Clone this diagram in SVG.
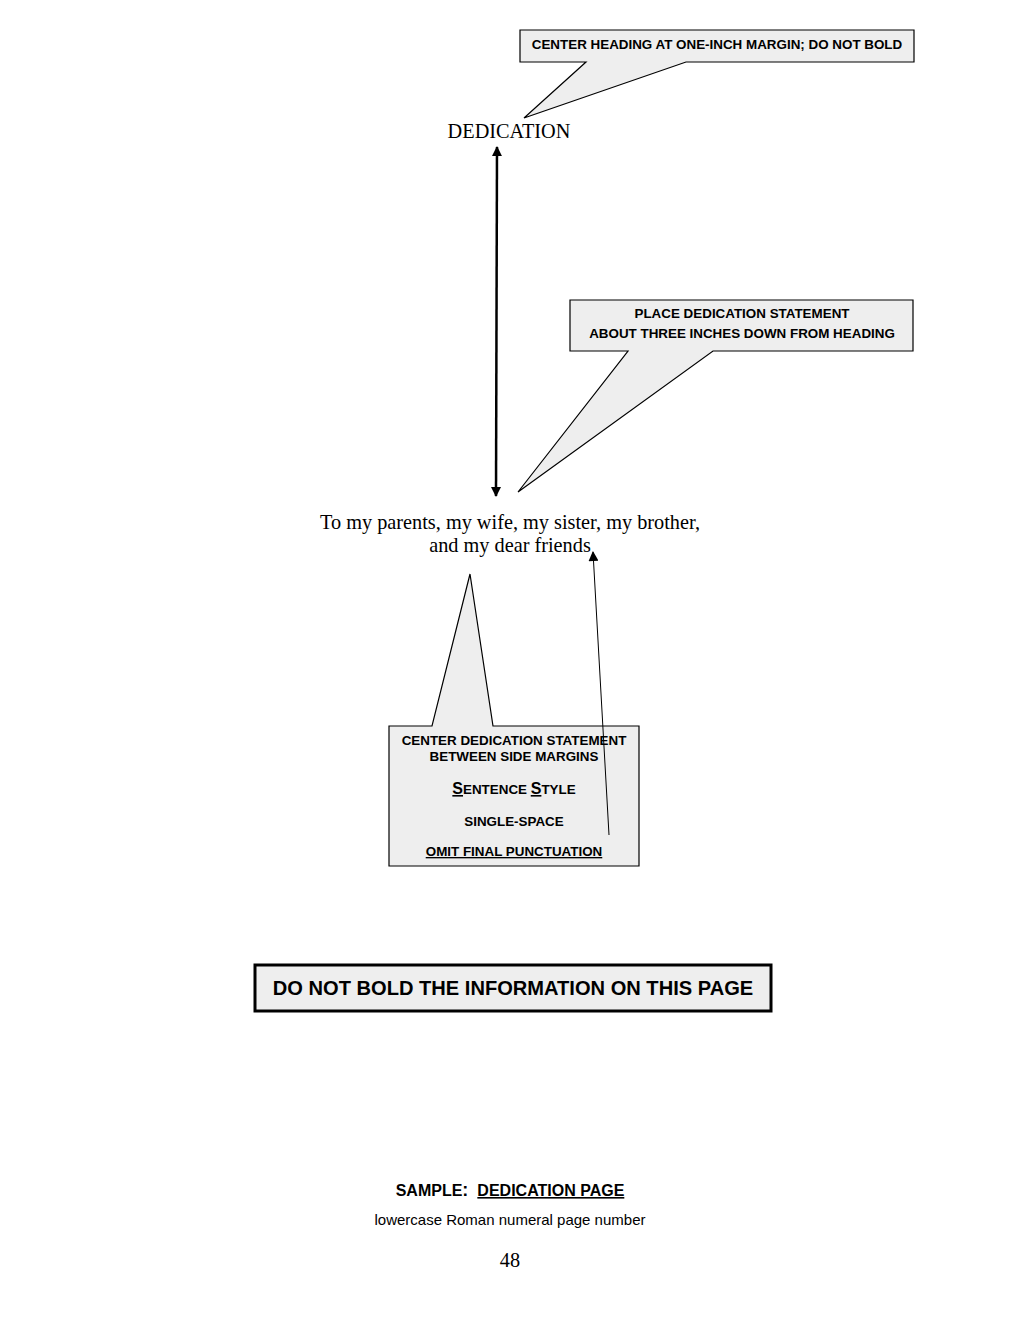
<svg xmlns="http://www.w3.org/2000/svg" width="1020" height="1320" viewBox="0 0 1020 1320">
<style>
.callout{fill:#eeeeee;stroke:#000;stroke-width:1.2}
.cap{font-family:"Liberation Sans",Arial,sans-serif;font-weight:bold;font-size:13.4px;fill:#000;text-anchor:middle}
.serif{font-family:"Liberation Serif","Times New Roman",serif;font-size:20.3px;fill:#000;text-anchor:middle}
.sans{font-family:"Liberation Sans",Arial,sans-serif;fill:#000;text-anchor:middle}
</style>
<defs>
<marker id="ah" viewBox="0 0 10 10" refX="9" refY="5" markerWidth="10" markerHeight="12" markerUnits="userSpaceOnUse" orient="auto-start-reverse">
<path d="M0,0 L10,5 L0,10 Z" fill="#000"/>
</marker>
<marker id="ahs" viewBox="0 0 10 10" refX="9" refY="5" markerWidth="12" markerHeight="10" markerUnits="userSpaceOnUse" orient="auto">
<path d="M0,0 L10,5 L0,10 Z" fill="#000"/>
</marker>
</defs>
<rect width="1020" height="1320" fill="#fff"/>

<g id="callout-heading">
<path class="callout" d="M520,30 H914 V62 H686 L524,118 L586,62 H520 Z"/>
<text class="cap" x="717" y="49">CENTER HEADING AT ONE-INCH MARGIN; DO NOT BOLD</text>
</g>

<g id="heading">
<text class="serif" x="509" y="138">DEDICATION</text>
</g>

<g id="callout-place">
<path class="callout" d="M570,300 H913 V351 H713 L518,492 L628,351 H570 Z"/>
<text class="cap" x="742" y="318">PLACE DEDICATION STATEMENT</text>
<text class="cap" x="742" y="338">ABOUT THREE INCHES DOWN FROM HEADING</text>
</g>

<g id="statement">
<text class="serif" x="510" y="529">To my parents, my wife, my sister, my brother,</text>
<text class="serif" x="510" y="552">and my dear friends</text>
</g>

<g id="callout-center">
<path class="callout" d="M389,726 H432 L470,574 L493,726 H639 V866 H389 Z"/>
<text class="cap" x="514" y="745">CENTER DEDICATION STATEMENT</text>
<text class="cap" x="514" y="761">BETWEEN SIDE MARGINS</text>
<text class="cap" x="514" y="794"><tspan font-size="16" text-decoration="underline">S</tspan>ENTENCE <tspan font-size="16" text-decoration="underline">S</tspan>TYLE</text>
<text class="cap" x="514" y="826">SINGLE-SPACE</text>
<text class="cap" x="514" y="856" text-decoration="underline">OMIT FINAL PUNCTUATION</text>
</g>

<g id="connectors">
<line x1="497" y1="147" x2="496" y2="496" stroke="#000" stroke-width="2.5" marker-start="url(#ah)" marker-end="url(#ah)"/>
<line x1="609" y1="835" x2="593" y2="552" stroke="#000" stroke-width="1" marker-end="url(#ahs)"/>
</g>

<g id="notice">
<rect x="255" y="965" width="516" height="46" fill="#eeeeee" stroke="#000" stroke-width="3"/>
<text class="sans" x="513" y="995" font-size="20.1" font-weight="bold">DO NOT BOLD THE INFORMATION ON THIS PAGE</text>
</g>

<g id="footer">
<text class="sans" x="510" y="1196" font-size="16" font-weight="bold">SAMPLE<tspan font-size="18">:</tspan><tspan dx="9" text-decoration="underline">DEDICATION PAGE</tspan></text>
<text class="sans" x="510" y="1225" font-size="15">lowercase Roman numeral page number</text>
<text class="serif" x="510" y="1267">48</text>
</g>
</svg>
